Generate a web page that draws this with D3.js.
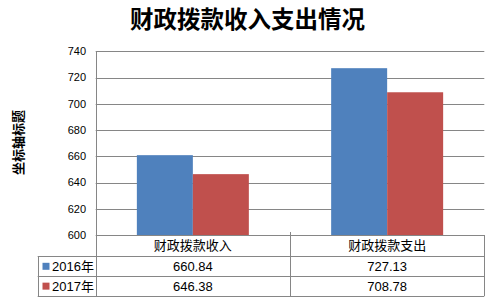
<!DOCTYPE html>
<html>
<head>
<meta charset="utf-8">
<script src="https://cdn.jsdelivr.net/npm/d3@7"></script>
<style>
  body { margin: 0; background: #fff; }
  svg { display: block; font-family: "Liberation Sans", "Noto Sans CJK SC", sans-serif; }
</style>
</head>
<body>
<svg id="chart"></svg>
<script>
const categories = ["财政拨款收入", "财政拨款支出"]
const seriesNames = ["2016年", "2017年"]
const values2016 = [660.84, 727.13]
const values2017 = [646.38, 708.78]
const valueLabels = [["660.84", "727.13"], ["646.38", "708.78"]]
const yTicks = [600, 620, 640, 660, 680, 700, 720, 740]

const width = 494, height = 306
const colors = ["#4F81BD", "#C0504D"]
const gridColor = "#868686"
const plot = { left: 95.7, right: 484.3, top: 51.3, bottom: 235 }
const tableLeft = 37.7
const rowLines = [256.3, 276.3, 296]

const svg = d3.select("#chart").attr("width", width).attr("height", height)

const series = [values2016, values2017]

const y = d3.scaleLinear().domain([600, 740]).range([plot.bottom, plot.top])
const x0 = d3.scaleBand().domain(categories).range([plot.left, plot.right]).padding(0)
const x1 = d3.scaleBand().domain(seriesNames).range([0, x0.bandwidth()]).paddingInner(0).paddingOuter(0.735)

// Title
svg.append("text")
  .attr("x", 247.5)
  .attr("y", 27.5)
  .attr("text-anchor", "middle")
  .style("font-family", "'Noto Sans CJK SC'")
  .style("font-size", "23.5px")
  .style("font-weight", "bold")
  .text("财政拨款收入支出情况")

// Gridlines
svg.append("g")
  .selectAll("line")
  .data(yTicks)
  .join("line")
  .attr("x1", plot.left)
  .attr("x2", plot.right)
  .attr("y1", d => Math.round(y(d)) + 0.5)
  .attr("y2", d => Math.round(y(d)) + 0.5)
  .attr("stroke", gridColor)
  .attr("stroke-width", 1)

// Y tick labels
svg.append("g")
  .selectAll("text")
  .data(yTicks)
  .join("text")
  .attr("x", 86)
  .attr("y", d => y(d))
  .attr("dy", "0.35em")
  .attr("text-anchor", "end")
  .style("font-size", "11px")
  .attr("fill", "#000")
  .text(d => d)

// Y axis title
svg.append("text")
  .attr("transform", "translate(22.5,142.5) rotate(-90)")
  .attr("text-anchor", "middle")
  .style("font-family", "'Noto Sans CJK SC'")
  .style("font-size", "13px")
  .style("font-weight", "bold")
  .text("坐标轴标题")

// Bars
const groups = svg.append("g")
  .selectAll("g")
  .data(categories)
  .join("g")
  .attr("transform", d => `translate(${x0(d)},0)`)

groups.selectAll("rect")
  .data((c, ci) => seriesNames.map((s, si) => ({ s, v: series[si][ci], si })))
  .join("rect")
  .attr("x", d => x1(d.s))
  .attr("width", x1.bandwidth())
  .attr("y", d => y(d.v))
  .attr("height", d => y(600) - y(d.v))
  .attr("fill", d => colors[d.si])

// Data table lines
const lines = svg.append("g").attr("stroke", gridColor).attr("stroke-width", 1)
const px = v => Math.round(v) + 0.5
lines.append("line").attr("x1", px(plot.left)).attr("x2", px(plot.left)).attr("y1", plot.top).attr("y2", rowLines[2])
lines.append("line").attr("x1", px(plot.right)).attr("x2", px(plot.right)).attr("y1", plot.bottom).attr("y2", rowLines[2])
lines.append("line").attr("x1", px(x0(categories[1]))).attr("x2", px(x0(categories[1]))).attr("y1", plot.bottom - 3).attr("y2", rowLines[2])
lines.append("line").attr("x1", px(tableLeft)).attr("x2", px(tableLeft)).attr("y1", rowLines[0]).attr("y2", rowLines[2])
rowLines.forEach(ry => {
  lines.append("line").attr("x1", tableLeft).attr("x2", plot.right).attr("y1", px(ry)).attr("y2", px(ry))
})

// Category labels
svg.append("g")
  .selectAll("text")
  .data(categories)
  .join("text")
  .attr("x", d => x0(d) + x0.bandwidth() / 2)
  .attr("y", (plot.bottom + rowLines[0]) / 2)
  .attr("dy", "0.35em")
  .attr("text-anchor", "middle")
  .style("font-family", "'Noto Sans CJK SC'")
  .style("font-size", "13px")
  .text(d => d)

// Legend rows and values
const rowTop = [rowLines[0], rowLines[1]]
seriesNames.forEach((s, si) => {
  const cy = (rowTop[si] + rowLines[si + 1]) / 2
  svg.append("rect")
    .attr("x", 42.5)
    .attr("y", cy - 3.5)
    .attr("width", 7)
    .attr("height", 7)
    .attr("fill", colors[si])
  svg.append("text")
    .attr("x", 52)
    .attr("y", cy)
    .attr("dy", "0.35em")
    .style("font-size", "13px")
    .text(s)
  categories.forEach((c, ci) => {
    svg.append("text")
      .attr("x", x0(c) + x0.bandwidth() / 2)
      .attr("y", cy)
      .attr("dy", "0.35em")
      .attr("text-anchor", "middle")
      .style("font-size", "13px")
      .text(valueLabels[si][ci])
  })
})
</script>
</body>
</html>
